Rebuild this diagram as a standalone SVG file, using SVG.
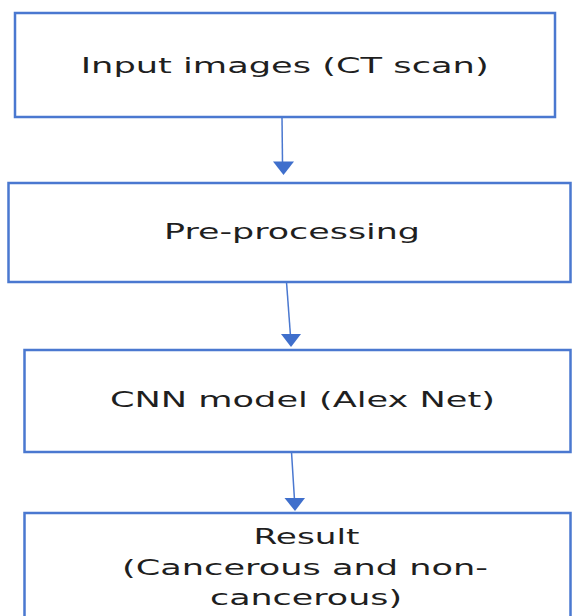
<svg xmlns="http://www.w3.org/2000/svg" width="572" height="616" viewBox="0 0 572 616">
  <style>
    .box { fill: #ffffff; stroke: #4a78d0; stroke-width: 2.5; }
    .label { font-family: "DejaVu Sans", Verdana, sans-serif; font-size: 20.5px; fill: #1f1f1f; }
    .edge { stroke: #4a78d0; stroke-width: 1.5; fill: none; }
    .head { fill: #3f6fcc; }
  </style>
  <rect width="572" height="616" fill="#ffffff"/>

  <g id="connectors">
    <line class="edge" x1="282" y1="117" x2="282.5" y2="163"/>
    <polygon class="head" points="273,161.5 294,161.5 283.5,175"/>
    <line class="edge" x1="286.5" y1="282" x2="290.5" y2="336"/>
    <polygon class="head" points="281,334 301,334 291,347"/>
    <line class="edge" x1="291.5" y1="452" x2="294.5" y2="500"/>
    <polygon class="head" points="284.5,498 305,498 295,511"/>
  </g>

  <g id="input-images">
    <rect class="box" x="15" y="13" width="540" height="104"/>
    <text class="label" x="80.7" y="72.5" textLength="408" lengthAdjust="spacingAndGlyphs">Input images (CT scan)</text>
  </g>

  <g id="pre-processing">
    <rect class="box" x="8.5" y="183" width="562" height="99"/>
    <text class="label" x="164" y="239" textLength="256" lengthAdjust="spacingAndGlyphs">Pre-processing</text>
  </g>

  <g id="cnn-model">
    <rect class="box" x="24.5" y="350" width="546" height="102"/>
    <text class="label" x="110" y="407" textLength="385" lengthAdjust="spacingAndGlyphs">CNN model (Alex Net)</text>
  </g>

  <g id="result">
    <rect class="box" x="24.5" y="513" width="546" height="120"/>
    <text class="label" x="253.5" y="544" textLength="106" lengthAdjust="spacingAndGlyphs">Result</text>
    <text class="label" x="122" y="575" textLength="366" lengthAdjust="spacingAndGlyphs">(Cancerous and non-</text>
    <text class="label" x="210" y="605" textLength="192" lengthAdjust="spacingAndGlyphs">cancerous)</text>
  </g>
</svg>
